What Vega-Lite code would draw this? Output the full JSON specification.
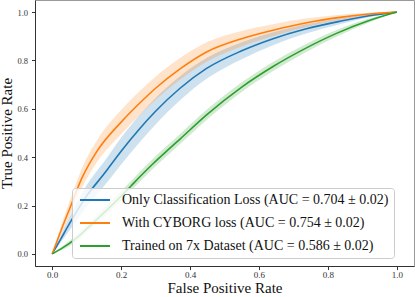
{
  "$schema": "https://vega.github.io/schema/vega-lite/v6.json",
  "width": 379,
  "height": 266,
  "autosize": {"type": "none"},
  "padding": {"left": 35, "top": 0, "right": 1, "bottom": 31},
  "config": {
    "font": "Liberation Serif",
    "view": {"stroke": "#999", "strokeWidth": 1}
  },
  "data": {
    "values": [
      {"s": "Only Classification Loss (AUC = 0.704 ± 0.02)", "fpr": 0, "tpr": 0, "lo": 0, "hi": 0},
      {"s": "Only Classification Loss (AUC = 0.704 ± 0.02)", "fpr": 0.025, "tpr": 0.062, "lo": 0.047, "hi": 0.077},
      {"s": "Only Classification Loss (AUC = 0.704 ± 0.02)", "fpr": 0.05, "tpr": 0.125, "lo": 0.097, "hi": 0.153},
      {"s": "Only Classification Loss (AUC = 0.704 ± 0.02)", "fpr": 0.1, "tpr": 0.24, "lo": 0.195, "hi": 0.285},
      {"s": "Only Classification Loss (AUC = 0.704 ± 0.02)", "fpr": 0.15, "tpr": 0.33, "lo": 0.28, "hi": 0.38},
      {"s": "Only Classification Loss (AUC = 0.704 ± 0.02)", "fpr": 0.2, "tpr": 0.425, "lo": 0.37, "hi": 0.48},
      {"s": "Only Classification Loss (AUC = 0.704 ± 0.02)", "fpr": 0.255, "tpr": 0.52, "lo": 0.464, "hi": 0.576},
      {"s": "Only Classification Loss (AUC = 0.704 ± 0.02)", "fpr": 0.3, "tpr": 0.59, "lo": 0.535, "hi": 0.645},
      {"s": "Only Classification Loss (AUC = 0.704 ± 0.02)", "fpr": 0.371, "tpr": 0.685, "lo": 0.635, "hi": 0.735},
      {"s": "Only Classification Loss (AUC = 0.704 ± 0.02)", "fpr": 0.448, "tpr": 0.767, "lo": 0.724, "hi": 0.81},
      {"s": "Only Classification Loss (AUC = 0.704 ± 0.02)", "fpr": 0.55, "tpr": 0.84, "lo": 0.805, "hi": 0.875},
      {"s": "Only Classification Loss (AUC = 0.704 ± 0.02)", "fpr": 0.641, "tpr": 0.89, "lo": 0.863, "hi": 0.917},
      {"s": "Only Classification Loss (AUC = 0.704 ± 0.02)", "fpr": 0.735, "tpr": 0.93, "lo": 0.91, "hi": 0.95},
      {"s": "Only Classification Loss (AUC = 0.704 ± 0.02)", "fpr": 0.835, "tpr": 0.962, "lo": 0.95, "hi": 0.974},
      {"s": "Only Classification Loss (AUC = 0.704 ± 0.02)", "fpr": 0.92, "tpr": 0.985, "lo": 0.979, "hi": 0.991},
      {"s": "Only Classification Loss (AUC = 0.704 ± 0.02)", "fpr": 1, "tpr": 1, "lo": 1, "hi": 1},

      {"s": "With CYBORG loss (AUC = 0.754 ± 0.02)", "fpr": 0, "tpr": 0, "lo": 0, "hi": 0},
      {"s": "With CYBORG loss (AUC = 0.754 ± 0.02)", "fpr": 0.025, "tpr": 0.095, "lo": 0.077, "hi": 0.113},
      {"s": "With CYBORG loss (AUC = 0.754 ± 0.02)", "fpr": 0.05, "tpr": 0.185, "lo": 0.155, "hi": 0.215},
      {"s": "With CYBORG loss (AUC = 0.754 ± 0.02)", "fpr": 0.085, "tpr": 0.31, "lo": 0.27, "hi": 0.35},
      {"s": "With CYBORG loss (AUC = 0.754 ± 0.02)", "fpr": 0.13, "tpr": 0.425, "lo": 0.38, "hi": 0.47},
      {"s": "With CYBORG loss (AUC = 0.754 ± 0.02)", "fpr": 0.2, "tpr": 0.545, "lo": 0.495, "hi": 0.595},
      {"s": "With CYBORG loss (AUC = 0.754 ± 0.02)", "fpr": 0.255, "tpr": 0.625, "lo": 0.575, "hi": 0.675},
      {"s": "With CYBORG loss (AUC = 0.754 ± 0.02)", "fpr": 0.3, "tpr": 0.685, "lo": 0.637, "hi": 0.733},
      {"s": "With CYBORG loss (AUC = 0.754 ± 0.02)", "fpr": 0.371, "tpr": 0.765, "lo": 0.72, "hi": 0.81},
      {"s": "With CYBORG loss (AUC = 0.754 ± 0.02)", "fpr": 0.448, "tpr": 0.835, "lo": 0.795, "hi": 0.875},
      {"s": "With CYBORG loss (AUC = 0.754 ± 0.02)", "fpr": 0.55, "tpr": 0.89, "lo": 0.858, "hi": 0.922},
      {"s": "With CYBORG loss (AUC = 0.754 ± 0.02)", "fpr": 0.641, "tpr": 0.925, "lo": 0.9, "hi": 0.95},
      {"s": "With CYBORG loss (AUC = 0.754 ± 0.02)", "fpr": 0.735, "tpr": 0.955, "lo": 0.937, "hi": 0.973},
      {"s": "With CYBORG loss (AUC = 0.754 ± 0.02)", "fpr": 0.835, "tpr": 0.978, "lo": 0.967, "hi": 0.989},
      {"s": "With CYBORG loss (AUC = 0.754 ± 0.02)", "fpr": 0.92, "tpr": 0.992, "lo": 0.987, "hi": 0.997},
      {"s": "With CYBORG loss (AUC = 0.754 ± 0.02)", "fpr": 1, "tpr": 1, "lo": 1, "hi": 1},

      {"s": "Trained on 7x Dataset (AUC = 0.586 ± 0.02)", "fpr": 0, "tpr": 0, "lo": 0, "hi": 0},
      {"s": "Trained on 7x Dataset (AUC = 0.586 ± 0.02)", "fpr": 0.03, "tpr": 0.025, "lo": 0.017, "hi": 0.033},
      {"s": "Trained on 7x Dataset (AUC = 0.586 ± 0.02)", "fpr": 0.061, "tpr": 0.055, "lo": 0.043, "hi": 0.067},
      {"s": "Trained on 7x Dataset (AUC = 0.586 ± 0.02)", "fpr": 0.12, "tpr": 0.13, "lo": 0.114, "hi": 0.146},
      {"s": "Trained on 7x Dataset (AUC = 0.586 ± 0.02)", "fpr": 0.19, "tpr": 0.225, "lo": 0.205, "hi": 0.245},
      {"s": "Trained on 7x Dataset (AUC = 0.586 ± 0.02)", "fpr": 0.228, "tpr": 0.28, "lo": 0.26, "hi": 0.3},
      {"s": "Trained on 7x Dataset (AUC = 0.586 ± 0.02)", "fpr": 0.255, "tpr": 0.32, "lo": 0.299, "hi": 0.341},
      {"s": "Trained on 7x Dataset (AUC = 0.586 ± 0.02)", "fpr": 0.294, "tpr": 0.375, "lo": 0.354, "hi": 0.396},
      {"s": "Trained on 7x Dataset (AUC = 0.586 ± 0.02)", "fpr": 0.336, "tpr": 0.43, "lo": 0.409, "hi": 0.451},
      {"s": "Trained on 7x Dataset (AUC = 0.586 ± 0.02)", "fpr": 0.371, "tpr": 0.475, "lo": 0.454, "hi": 0.496},
      {"s": "Trained on 7x Dataset (AUC = 0.586 ± 0.02)", "fpr": 0.448, "tpr": 0.575, "lo": 0.554, "hi": 0.596},
      {"s": "Trained on 7x Dataset (AUC = 0.586 ± 0.02)", "fpr": 0.55, "tpr": 0.69, "lo": 0.67, "hi": 0.71},
      {"s": "Trained on 7x Dataset (AUC = 0.586 ± 0.02)", "fpr": 0.641, "tpr": 0.775, "lo": 0.756, "hi": 0.794},
      {"s": "Trained on 7x Dataset (AUC = 0.586 ± 0.02)", "fpr": 0.735, "tpr": 0.85, "lo": 0.833, "hi": 0.867},
      {"s": "Trained on 7x Dataset (AUC = 0.586 ± 0.02)", "fpr": 0.825, "tpr": 0.912, "lo": 0.898, "hi": 0.926},
      {"s": "Trained on 7x Dataset (AUC = 0.586 ± 0.02)", "fpr": 0.92, "tpr": 0.965, "lo": 0.957, "hi": 0.973},
      {"s": "Trained on 7x Dataset (AUC = 0.586 ± 0.02)", "fpr": 1, "tpr": 1, "lo": 1, "hi": 1}
    ]
  },
  "layer": [
    {
      "mark": {"type": "area", "opacity": 0.22, "interpolate": "monotone"},
      "encoding": {
        "x": {"field": "fpr", "type": "quantitative", "scale": {"domain": [-0.05, 1.05], "nice": false, "zero": false},
          "axis": {"title": "False Positive Rate", "titlePadding": 1, "titleFontSize": 15, "titleFontWeight": "normal", "titleColor": "#111",
            "values": [0, 0.2, 0.4, 0.6, 0.8, 1.0], "format": ".1f", "grid": false, "labelFontSize": 9, "labelColor": "#333",
            "domainColor": "#333", "tickColor": "#333", "tickSize": 3.5, "labelPadding": 1}},
        "y": {"field": "lo", "type": "quantitative", "scale": {"domain": [-0.05, 1.05], "nice": false, "zero": false},
          "axis": {"title": "True Positive Rate", "titlePadding": 2, "titleFontSize": 15, "titleFontWeight": "normal", "titleColor": "#111",
            "values": [0, 0.2, 0.4, 0.6, 0.8, 1.0], "format": ".1f", "grid": false, "labelFontSize": 8.5, "labelColor": "#333",
            "domainColor": "#333", "tickColor": "#333", "tickSize": 3.5, "labelPadding": 4}},
        "y2": {"field": "hi"},
        "color": {"field": "s", "type": "nominal",
          "scale": {"domain": ["Only Classification Loss (AUC = 0.704 ± 0.02)", "With CYBORG loss (AUC = 0.754 ± 0.02)", "Trained on 7x Dataset (AUC = 0.586 ± 0.02)"], "range": ["#1f77b4", "#ff7f0e", "#2ca02c"]},
          "legend": {
            "orient": "none", "legendX": 37, "legendY": 188, "title": null,
            "symbolType": "M-3,0H3", "symbolSize": 100, "symbolStrokeWidth": 2, "symbolOpacity": 1, "symbolFillColor": "transparent",
            "symbolOffset": 11,
            "labelFontSize": 14, "labelColor": "#111", "labelOffset": 20, "labelLimit": 500,
            "rowPadding": 9, "padding": 5,
            "fillColor": "rgba(255,255,255,0.8)", "strokeColor": "#ccc", "cornerRadius": 3
          }
        }
      }
    },
    {
      "mark": {"type": "line", "strokeWidth": 1.6, "interpolate": "monotone"},
      "encoding": {
        "x": {"field": "fpr", "type": "quantitative"},
        "y": {"field": "tpr", "type": "quantitative"},
        "color": {
          "field": "s", "type": "nominal",
          "legend": {
            "orient": "none", "legendX": 37, "legendY": 188, "title": null,
            "symbolType": "M-3,0H3", "symbolSize": 100, "symbolStrokeWidth": 2, "symbolOpacity": 1, "symbolFillColor": "transparent",
            "symbolOffset": 11,
            "labelFontSize": 14, "labelColor": "#111", "labelOffset": 20, "labelLimit": 500,
            "rowPadding": 9, "padding": 5,
            "fillColor": "rgba(255,255,255,0.8)", "strokeColor": "#ccc", "cornerRadius": 3
          }
        }
      }
    }
  ]
}
